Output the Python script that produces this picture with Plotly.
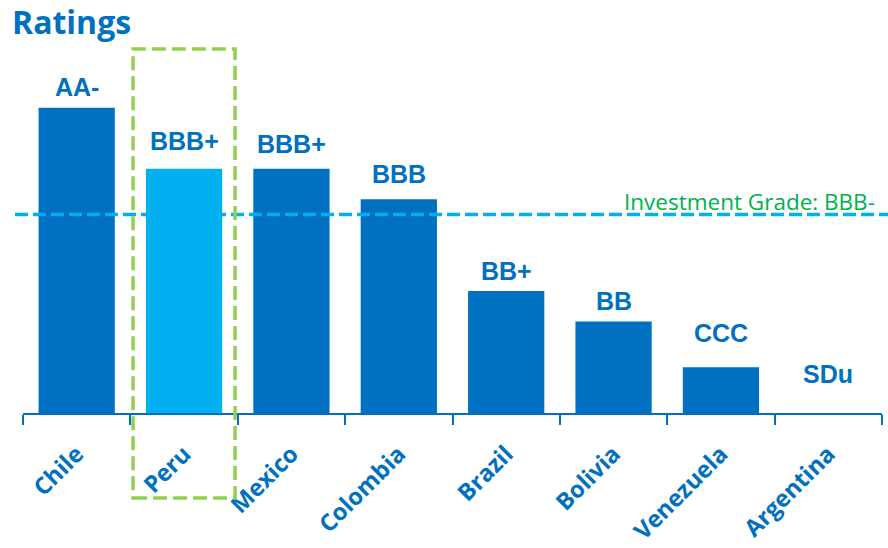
import plotly.graph_objects as go

# Sovereign credit ratings, plotted on a notch-style score
countries = ["Chile", "Peru", "Mexico", "Colombia", "Brazil", "Bolivia", "Venezuela", "Argentina"]
scores = [20, 16, 16, 14, 8, 6, 3, 0]
ratings = ["AA-", "BBB+", "BBB+", "BBB", "BB+", "BB", "CCC", "SDu"]
investment_grade_score = 13
investment_grade_label = "Investment Grade: BBB-"
highlight = "Peru"

# vertical lift (px) of each rating label above its bar top
label_lift = [21, 28, 25, 25, 20, 20, 34, 39]

DARK = "#0070C0"
LIGHT = "#00B0F0"
GREEN_TXT = "#00B050"
GREEN_BOX = "#92D050"

bar_colors = [LIGHT if c == highlight else DARK for c in countries]

fig = go.Figure(
    go.Bar(
        x=countries,
        y=scores,
        marker=dict(color=bar_colors, line=dict(width=0)),
        hoverinfo="skip",
    )
)

for c, s, r, lift in zip(countries, scores, ratings, label_lift):
    fig.add_annotation(
        x=c, y=s, xref="x", yref="y",
        text=f"<b>{r}</b>", showarrow=False,
        yanchor="middle", yshift=lift,
        font=dict(family="Liberation Sans, Arial", size=25, color=DARK),
    )

# investment-grade threshold line and its label
fig.add_shape(
    type="line", xref="paper", yref="y",
    x0=-0.0093, x1=1.0076, y0=investment_grade_score, y1=investment_grade_score,
    line=dict(color=LIGHT, width=3.5, dash="13px,5px"),
)
fig.add_annotation(
    x=0.994, y=investment_grade_score, xref="paper", yref="y",
    text=investment_grade_label, showarrow=False,
    xanchor="right", yanchor="bottom", yshift=-4,
    font=dict(family="Open Sans", size=22.5, color=GREEN_TXT),
)

# dashed frame around the highlighted country
n = len(countries)
i = countries.index(highlight)
fig.add_shape(
    type="rect", xref="paper", yref="paper",
    x0=(i + 0.5 - 0.475) / n, x1=(i + 0.5 + 0.475) / n,
    y0=-0.227, y1=0.973,
    line=dict(color=GREEN_BOX, width=3.5, dash="14px,6px"),
    fillcolor="rgba(0,0,0,0)", layer="above",
)

fig.update_layout(
    width=888, height=548,
    margin=dict(l=23, r=6, t=39, b=135, autoexpand=False),
    paper_bgcolor="white", plot_bgcolor="white",
    bargap=0.29,
    showlegend=False,
    title=dict(
        text="<b>Ratings</b>", x=12 / 888, xanchor="left", xref="container",
        y=1 - 23 / 548, yanchor="middle", yref="container",
        font=dict(family="Open Sans", size=32, color=DARK),
    ),
)
fig.update_xaxes(
    showline=True, linecolor=DARK, linewidth=2,
    ticks="outside", tickson="boundaries", ticklen=10, tickwidth=2, tickcolor=DARK,
    tickangle=-45, ticklabelstandoff=16, automargin=False,
    tickfont=dict(family="Open Sans", size=23.5, color=DARK, weight="bold"),
    showgrid=False, zeroline=False,
)
fig.update_yaxes(
    range=[0, 24.5], visible=False, showgrid=False, zeroline=False,
)

fig.write_html("out.html")
